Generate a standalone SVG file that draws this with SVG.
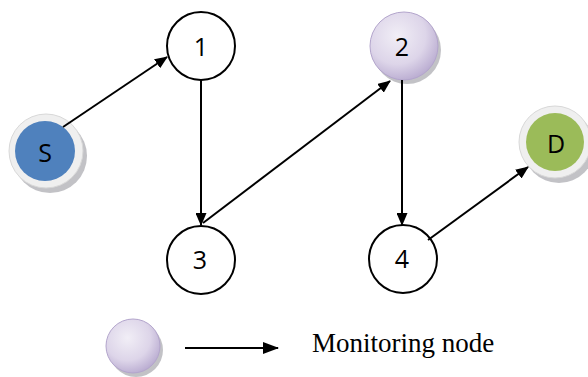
<svg xmlns="http://www.w3.org/2000/svg" width="588" height="377" viewBox="0 0 588 377">
<style>
.plain{fill:#fff;stroke:#000;stroke-width:2}
.lbl{font-family:"Open Sans","Liberation Sans",sans-serif;font-size:25px;text-anchor:middle;fill:#000}
.edge{stroke:#000;stroke-width:2;fill:none;marker-end:url(#ah)}
.shadow{fill:#8f8f98;opacity:0.55}
</style>
<defs>
<marker id="ah" markerWidth="13" markerHeight="11" refX="12" refY="5.5" orient="auto" markerUnits="userSpaceOnUse" viewBox="0 0 13 11"><path d="M0,0 L13,5.5 L0,11 z" fill="#000"/></marker>
<marker id="ah2" markerWidth="16" markerHeight="12" refX="15" refY="6" orient="auto" markerUnits="userSpaceOnUse" viewBox="0 0 16 12"><path d="M0,0 L16,6 L0,12 z" fill="#000"/></marker>
<radialGradient id="lav" cx="0.4" cy="0.35" r="0.7">
<stop offset="0" stop-color="#f1eef6"/><stop offset="0.6" stop-color="#ddd5e9"/><stop offset="1" stop-color="#b7a9cf"/>
</radialGradient>
</defs>
<g id="node-S">
<circle class="shadow" cx="50" cy="156" r="37"/>
<circle cx="46" cy="151" r="37" fill="#efefef" stroke="#d8d8d8" stroke-width="1"/>
<circle cx="45" cy="151" r="30" fill="#4f81bd"/>
<text class="lbl" x="45" y="162">S</text>
</g>
<g id="node-1">
<circle class="plain" cx="201" cy="46" r="34"/>
<text class="lbl" x="201" y="56">1</text>
</g>
<g id="node-2">
<circle class="shadow" cx="407" cy="50" r="34"/>
<circle cx="404" cy="46" r="34" fill="url(#lav)" stroke="#b3a5cc" stroke-width="1"/>
<text class="lbl" x="402" y="56">2</text>
</g>
<g id="node-3">
<circle class="plain" cx="201" cy="260" r="34"/>
<text class="lbl" x="200" y="269">3</text>
</g>
<g id="node-4">
<circle class="plain" cx="403" cy="259" r="34"/>
<text class="lbl" x="402" y="268">4</text>
</g>
<g id="node-D">
<circle class="shadow" cx="559" cy="147" r="36"/>
<circle cx="555" cy="142" r="36" fill="#efefef" stroke="#d8d8d8" stroke-width="1"/>
<circle cx="555" cy="142" r="29" fill="#9bbb59"/>
<text class="lbl" x="556" y="153">D</text>
</g>
<g id="connectors">
<line class="edge" x1="63" y1="127" x2="167" y2="57"/>
<line class="edge" x1="201" y1="80" x2="201" y2="225"/>
<line class="edge" x1="203" y1="223" x2="390" y2="81"/>
<line class="edge" x1="402" y1="80" x2="402" y2="225"/>
<line class="edge" x1="428" y1="240" x2="528" y2="167"/>
</g>
<g id="legend">
<circle class="shadow" cx="136" cy="350" r="27"/>
<circle cx="133" cy="346" r="27" fill="url(#lav)" stroke="#b3a5cc" stroke-width="1"/>
<line x1="185" y1="348" x2="278" y2="348" stroke="#000" stroke-width="2" marker-end="url(#ah2)"/>
<text x="312" y="352" font-family="'Liberation Serif',serif" font-size="27" fill="#000">Monitoring node</text>
</g>
</svg>
